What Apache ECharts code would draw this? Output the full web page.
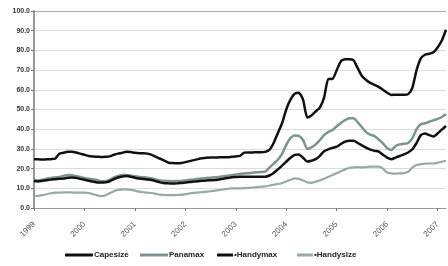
<!DOCTYPE html>
<html>
<head>
<meta charset="utf-8">
<script src="https://cdn.jsdelivr.net/npm/echarts@6/dist/echarts.min.js"></script>
<style>
html, body { margin: 0; padding: 0; background: #fff; }
#chart { width: 448px; height: 266px; }
</style>
</head>
<body>
<div id="chart"></div>
<script>
// monthly values, Jan 1999 .. Mar 2007
var years = ['1999', '2000', '2001', '2002', '2003', '2004', '2005', '2006', '2007'];
var yTicks = [0, 10, 20, 30, 40, 50, 60, 70, 80, 90, 100];
var names = ['Capesize', 'Panamax', '•Handymax', '•Handysize'];

var capesize = [24.7, 24.7, 24.6, 24.7, 24.8, 25.0, 27.5, 28.0, 28.5, 28.6, 28.2, 27.6,
	27.0, 26.4, 26.1, 26.0, 25.9, 26.0, 26.2, 27.0, 27.6, 28.0, 28.6, 28.4,
	28.0, 27.8, 27.8, 27.6, 27.0, 26.0, 25.0, 24.0, 23.0, 22.8, 22.7, 22.8,
	23.3, 23.8, 24.3, 24.8, 25.2, 25.5, 25.6, 25.6, 25.7, 25.8, 25.8, 26.0,
	26.2, 26.5, 28.1, 28.2, 28.2, 28.3, 28.3, 28.5, 29.5, 33, 38, 43,
	50, 55, 58, 58.5, 55, 46, 47, 49, 51, 56, 65.5, 65.5,
	70, 74.5, 75.5, 75.5, 75, 71, 67, 65, 63.5, 62.5, 61.5, 60,
	58.5, 57.4, 57.5, 57.5, 57.5, 57.8, 61, 70, 76, 77.8, 78.3, 79,
	81.5, 85, 90.5];

var panamax = [14.2, 14.0, 14.3, 14.8, 15.2, 15.5, 15.8, 16.3, 16.8, 16.6, 16.2, 15.8,
	15.3, 14.9, 14.6, 14.2, 13.6, 13.6, 14.4, 15.5, 16.3, 16.8, 16.8, 16.5,
	16.1, 15.8, 15.6, 15.4, 15.0, 14.5, 14.0, 13.8, 13.7, 13.6, 13.7, 13.7,
	14.0, 14.3, 14.5, 14.8, 15.0, 15.2, 15.4, 15.6, 15.8, 16.1, 16.4, 16.8,
	17.0, 17.3, 17.5, 17.7, 17.9, 18.1, 18.3, 18.5, 20.5, 22.5, 24.5, 27.5,
	32, 35.5, 36.8, 36.6, 34.5, 30, 30.8, 32.3, 34.5, 37, 38.5, 39.6,
	41.5, 43.2, 44.6, 45.5, 45.5, 43.5, 41, 38.5, 37.2, 36.5, 34.8, 32.8,
	30.5, 29.5, 31.5, 32.3, 32.6, 33, 35.5, 40, 42.5, 43, 43.8, 44.5,
	45.2, 46.2, 47.7];

var handymax = [13.7, 13.5, 13.8, 14.1, 14.4, 14.6, 14.8, 15.0, 15.3, 15.5, 15.3, 14.8,
	14.3, 13.8, 13.4, 13.0, 12.9, 13.0, 13.6, 14.6, 15.5, 16.0, 16.2, 15.9,
	15.4, 15.0, 14.7, 14.5, 14.2, 13.6, 13.0, 12.6, 12.5, 12.4, 12.5, 12.7,
	12.9, 13.2, 13.4, 13.6, 13.8, 14.0, 14.1, 14.2, 14.5, 14.9, 15.2, 15.6,
	15.7, 15.8, 15.8, 15.8, 15.9, 15.9, 15.9, 15.9, 16.5, 17.8, 19.6, 21.5,
	23.5, 25.5, 27, 27.2, 25.5, 23.6, 24, 24.8, 26.5, 28.8, 29.8, 30.5,
	31.1, 32.5, 33.7, 34.2, 34.2, 33, 31.8, 30.6, 29.6, 29.0, 28.6, 27,
	25.6, 24.8, 25.6, 26.4, 27.2, 28.2, 29.8, 33, 37, 37.8, 37, 36.3,
	37.8, 39.8, 41.6];

var handysize = [6.1, 6.2, 6.5, 7.0, 7.5, 7.8, 7.8, 7.9, 7.9, 7.9, 7.8, 7.8,
	7.8, 7.6, 7.0, 6.4, 6.1, 6.5, 7.5, 8.5, 9.2, 9.5, 9.5, 9.2,
	8.8, 8.3, 8.0, 7.8, 7.6, 7.2, 6.8, 6.6, 6.5, 6.5, 6.6, 6.7,
	7.0, 7.4, 7.7, 7.9, 8.1, 8.3, 8.5, 8.8, 9.1, 9.4, 9.7, 10.0,
	10.0, 10.0, 10.1, 10.2, 10.4, 10.6, 10.8, 11.0, 11.4, 11.8, 12.2, 12.6,
	13.5, 14.3, 15.0, 14.8, 14.0, 13.0, 12.8, 13.4, 14.0, 14.8, 15.8, 16.8,
	17.6, 18.6, 19.6, 20.3, 20.6, 20.8, 20.6, 20.8, 21.0, 21.0, 21.0, 20.0,
	18.0, 17.6, 17.5, 17.6, 17.7, 18.4, 20.5, 21.8, 22.2, 22.5, 22.6, 22.6,
	23.0, 23.5, 24.0];

var categories = [];
years.forEach(function (y) {
	for (var m = 1; m <= 12; m++) {
		if (categories.length < capesize.length) {
			categories.push(y + '-' + (m < 10 ? '0' + m : m));
		}
	}
});

// one legend per entry so every key sits where it does in the original
function legendItem(name, left, width) {
	return {
		data: [name],
		left: left,
		top: 251,
		itemWidth: width,
		itemHeight: 3,
		icon: 'rect',
		padding: 0,
		textStyle: { fontSize: 8, fontWeight: 'bold', color: '#222', padding: [0, 0, 0, -4] }
	};
}

var chart = echarts.init(document.getElementById('chart'));

chart.setOption({
	animation: false,
	textStyle: { fontFamily: 'Liberation Sans, Arial, sans-serif' },
	grid: {
		left: 34,
		right: 2,
		top: 11,
		bottom: 58
	},
	legend: [
		legendItem(names[0], 65, 28),
		legendItem(names[1], 140, 28),
		legendItem(names[2], 217, 16),
		legendItem(names[3], 297, 16)
	],
	xAxis: {
		type: 'category',
		boundaryGap: false,
		data: categories,
		axisLine: { lineStyle: { color: '#999', width: 1 } },
		axisTick: {
			length: 3,
			lineStyle: { color: '#777' },
			interval: function (i) { return i % 12 === 0; }
		},
		axisLabel: {
			rotate: 45,
			fontSize: 8,
			color: '#555',
			margin: 15,
			interval: function (i) { return i % 12 === 0; },
			formatter: function (v) { return v.slice(0, 4); }
		}
	},
	yAxis: {
		type: 'value',
		min: yTicks[0],
		max: yTicks[yTicks.length - 1],
		interval: 10,
		axisLine: { show: true, lineStyle: { color: '#999', width: 2 } },
		axisTick: { show: true, length: 3, lineStyle: { color: '#777' } },
		axisLabel: {
			fontSize: 7,
			fontWeight: 'bold',
			color: '#333',
			margin: 4,
			formatter: function (v) { return v.toFixed(1); }
		},
		splitLine: {
			lineStyle: {
				color: ['#dcdcdc', '#dcdcdc', '#dcdcdc', '#dcdcdc', '#dcdcdc', '#dcdcdc',
					'#dcdcdc', '#dcdcdc', '#dcdcdc', '#dcdcdc', '#a8a8a8'],
				width: 1
			}
		}
	},
	series: [{
		name: names[0],
		type: 'line',
		symbol: 'none',
		smooth: 0.2,
		itemStyle: { color: '#111' },
		lineStyle: { color: '#111', width: 2.5 },
		data: capesize
	}, {
		name: names[1],
		type: 'line',
		symbol: 'none',
		smooth: 0.2,
		itemStyle: { color: '#7b9391' },
		lineStyle: { color: '#7b9391', width: 2.5 },
		data: panamax
	}, {
		name: names[2],
		type: 'line',
		symbol: 'none',
		smooth: 0.2,
		itemStyle: { color: '#111' },
		lineStyle: { color: '#111', width: 2.5 },
		data: handymax
	}, {
		name: names[3],
		type: 'line',
		symbol: 'none',
		smooth: 0.2,
		itemStyle: { color: '#96aaa8' },
		lineStyle: { color: '#96aaa8', width: 2.2 },
		data: handysize
	}]
});
</script>
</body>
</html>
